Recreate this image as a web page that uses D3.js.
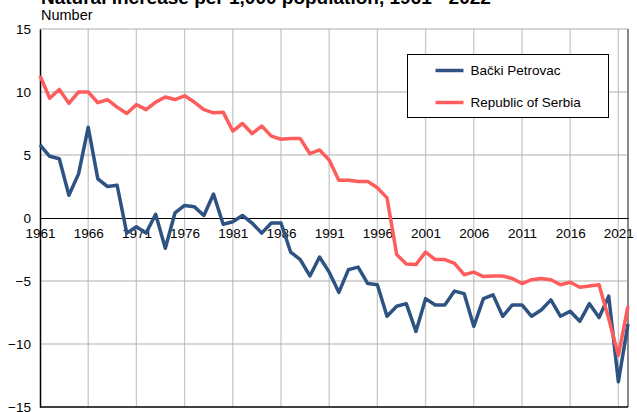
<!DOCTYPE html>
<html>
<head>
<meta charset="utf-8">
<script src="https://cdn.jsdelivr.net/npm/d3@7"></script>
<style>
  body { margin: 0; background: #fff; }
  svg { display: block; font-family: "Liberation Sans", Arial, sans-serif; }
</style>
</head>
<body>
<div id="svg"></div>
<script>
// years 1961 - 2022
let years = d3.range(1961, 2023);
let petrovac = [5.8, 4.9, 4.7, 1.8, 3.5, 7.2, 3.1, 2.5, 2.6, -1.2,
  -0.7, -1.2, 0.3, -2.4, 0.4, 1.0, 0.9, 0.2, 1.9, -0.5,
  -0.3, 0.2, -0.4, -1.2, -0.4, -0.4, -2.7, -3.3, -4.6, -3.1,
  -4.3, -5.9, -4.1, -3.9, -5.2, -5.3, -7.8, -7.0, -6.8, -9.0,
  -6.4, -6.9, -6.9, -5.8, -6.0, -8.6, -6.4, -6.1, -7.8, -6.9,
  -6.9, -7.8, -7.3, -6.5, -7.8, -7.4, -8.2, -6.8, -7.9, -6.2,
  -13.0, -8.4];
let serbia = [11.3, 9.5, 10.2, 9.1, 10.0, 10.0, 9.15, 9.4, 8.8, 8.3,
  9.0, 8.6, 9.2, 9.6, 9.4, 9.7, 9.2, 8.6, 8.35, 8.4,
  6.9, 7.5, 6.7, 7.3, 6.5, 6.25, 6.3, 6.3, 5.1, 5.4,
  4.6, 3.0, 3.0, 2.9, 2.9, 2.4, 1.6, -2.9, -3.65, -3.7,
  -2.7, -3.3, -3.3, -3.6, -4.5, -4.3, -4.65, -4.6, -4.6, -4.8,
  -5.2, -4.9, -4.8, -4.9, -5.3, -5.1, -5.5, -5.4, -5.3, -8.0,
  -10.9, -7.0];
let yTicks = [-15, -10, -5, 0, 5, 10, 15];
let xTicks = d3.range(1961, 2022, 5);
let seriesNames = ['Bački Petrovac', 'Republic of Serbia'];
let colors = ['#2e5382', '#ff5c5c'];

let w = 637;
let h = 412;
let svg = d3.select('#svg').append('svg').attr('width', w).attr('height', h);

let xScale = d3.scaleLinear().domain([1961, 2022]).range([40, 628]);
let yScale = d3.scaleLinear().domain([-15, 15]).range([407, 29]);

//title (cut off at top) and unit
svg.append('text').attr('x', 41).attr('y', 4)
  .style('font-size', '19px').style('font-weight', 'bold')
  .text('Natural increase per 1,000 population, 1961 - 2022');
svg.append('text').attr('x', 41).attr('y', 20)
  .style('font-size', '14.5px').text('Number');

//grid
svg.append('g').selectAll('line').data(xTicks.slice(1)).join('line')
  .attr('x1', d => xScale(d)).attr('x2', d => xScale(d))
  .attr('y1', yScale(15)).attr('y2', yScale(-15))
  .attr('stroke', '#c8c8c8').attr('stroke-width', 1.3);
svg.append('g').selectAll('line').data(yTicks.filter(d => d != 0 && d != -15)).join('line')
  .attr('x1', xScale(1961)).attr('x2', xScale(2022))
  .attr('y1', d => yScale(d)).attr('y2', d => yScale(d))
  .attr('stroke', '#b0b0b0').attr('stroke-width', 1.2);

//right border
svg.append('line').attr('x1', xScale(2022)).attr('x2', xScale(2022))
  .attr('y1', yScale(15)).attr('y2', yScale(-15))
  .attr('stroke', '#888').attr('stroke-width', 2);
//bottom
svg.append('line').attr('x1', xScale(1961)).attr('x2', xScale(2022))
  .attr('y1', yScale(-15)).attr('y2', yScale(-15))
  .attr('stroke', '#000').attr('stroke-width', 1.3);

//y axis
let yAxis = d3.axisLeft(yScale).tickValues(yTicks).tickSize(0).tickPadding(9);
svg.append('g').attr('transform', 'translate(' + xScale(1961) + ',0)').call(yAxis)
  .call(g => g.select('.domain').attr('stroke', '#000').attr('stroke-width', 1.5))
  .call(g => g.selectAll('text').style('font-size', '13.5px').attr('fill', '#000')
    .style('font-family', '"Liberation Sans", Arial, sans-serif'));

//x axis on zero line
let xAxis = d3.axisBottom(xScale).tickValues(xTicks).tickFormat(d3.format('d')).tickSize(0).tickPadding(10);
svg.append('g').attr('transform', 'translate(0,' + yScale(0) + ')').call(xAxis)
  .call(g => g.select('.domain').attr('stroke', '#000').attr('stroke-width', 1.2))
  .call(g => g.selectAll('text').style('font-size', '13.5px').attr('fill', '#000')
    .style('font-family', '"Liberation Sans", Arial, sans-serif'));

//lines
let line = d3.line().x((d, i) => xScale(years[i])).y(d => yScale(d));
[petrovac, serbia].forEach((s, k) => {
  svg.append('path').datum(s).attr('d', line)
    .attr('fill', 'none').attr('stroke', colors[k])
    .attr('stroke-width', 3.5).attr('stroke-linejoin', 'round');
});

//legend
let legend = svg.append('g').attr('transform', 'translate(407.5,54.5)');
legend.append('rect').attr('width', 201).attr('height', 63)
  .attr('fill', '#fff').attr('stroke', '#000').attr('stroke-width', 1);
seriesNames.forEach((n, k) => {
  let y = 16 + k * 32;
  legend.append('line').attr('x1', 28).attr('x2', 56).attr('y1', y).attr('y2', y)
    .attr('stroke', colors[k]).attr('stroke-width', 3.5);
  legend.append('text').attr('x', 63).attr('y', y + 4.5)
    .style('font-size', '13.5px').text(n);
});
</script>
</body>
</html>
